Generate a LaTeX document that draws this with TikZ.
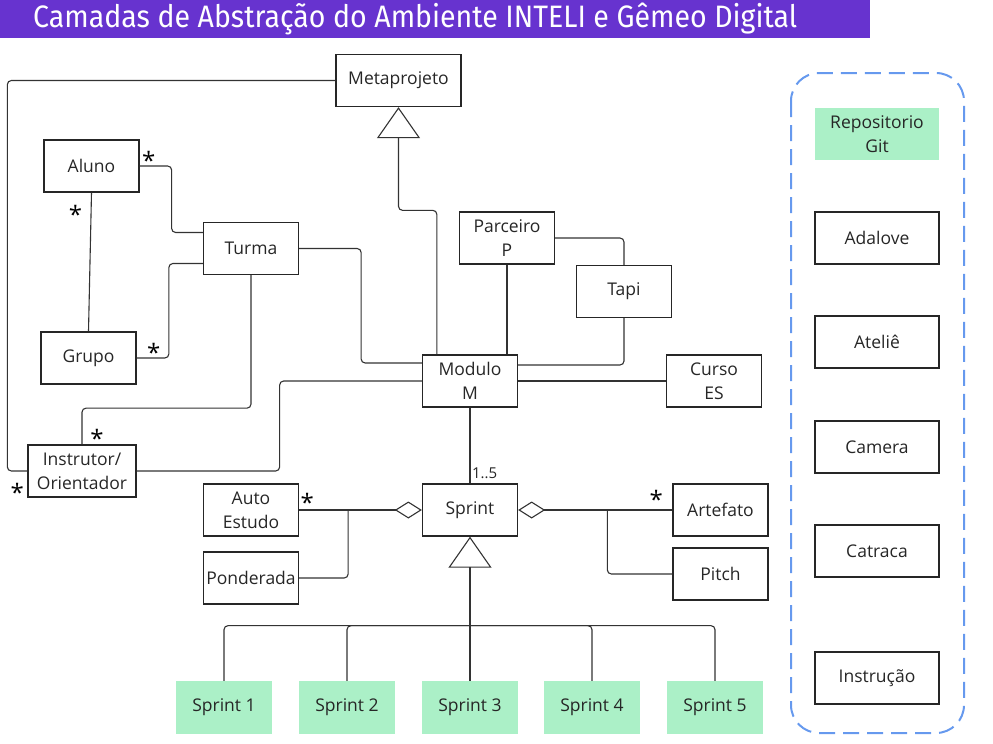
\documentclass[tikz,border=0pt]{standalone}
\usepackage{fontspec}
\setmainfont{Open Sans}
\newfontfamily\titlefont{Fira Sans}
\usetikzlibrary{arrows.meta, positioning}
\definecolor{titlepurple}{RGB}{103,51,207}
\definecolor{sprintgreen}{RGB}{171,240,199}
\definecolor{dashblue}{RGB}{102,153,238}
\definecolor{linegray}{RGB}{51,51,51}

\begin{document}
\begin{tikzpicture}[x=1pt, y=-1pt, font=\fontsize{17.5}{24}\selectfont]

  % Stili
  \tikzstyle{box} = [rectangle, draw=black!85, line width=1.3pt, minimum width=95pt, minimum height=52pt, inner sep=2pt, align=center, text=black!85]
  \tikzstyle{greenbox} = [rectangle, draw=none, fill=sprintgreen, minimum width=96pt, minimum height=53pt, align=center, text=black!85]
  \tikzstyle{link} = [draw=linegray, line width=1.1pt, rounded corners=4pt]
  \tikzstyle{mult} = [inner sep=0pt, text=black, font=\fontsize{24}{24}\selectfont]
  \tikzstyle{gen} = [-{Triangle[open, length=31pt, width=43pt]}]
  \tikzstyle{agg} = [-{Diamond[open, length=27pt, width=17pt]}]

  \useasboundingbox (0,0) rectangle (993,744);

  % Titolo
  \fill[titlepurple] (0,0) rectangle (870,38);
  \node[anchor=west, inner sep=0pt, text=white, font=\titlefont\fontsize{31}{31}\selectfont, xscale=0.92] (titolo) at (33,19) {Camadas de Abstração do Ambiente INTELI e Gêmeo Digital};

  % Nodi
  \node[box, minimum width=125pt] (meta) at (398.5,80.5) {Metaprojeto};
  \node[box] (aluno) at (91.5,166) {Aluno};
  \node[box] (turma) at (251,248.5) {Turma};
  \node[box] (grupo) at (88.5,358) {Grupo};
  \node[box, minimum width=108pt] (instr) at (82,471) {Instrutor/\\Orientador};
  \node[box] (parc) at (507,238) {Parceiro\\P};
  \node[box] (tapi) at (624,291.5) {Tapi};
  \node[box] (mod) at (470,381) {Modulo\\M};
  \node[box] (curso) at (714,381) {Curso\\ES};
  \node[box] (sprint) at (470,510) {Sprint};
  \node[box] (auto) at (251,510) {Auto\\Estudo};
  \node[box] (pond) at (251,578) {Ponderada};
  \node[box] (artef) at (720.5,510) {Artefato};
  \node[box] (pitch) at (720.5,574) {Pitch};

  \foreach \i/\x in {1/224, 2/347, 3/470, 4/592, 5/715}
    \node[greenbox] (s\i) at (\x,707.5) {Sprint \i};

  % Componenti
  \draw[dashblue, line width=2pt, dash pattern=on 16pt off 8pt, rounded corners=28pt] (791,73) rectangle (964,733);
  \node[greenbox, minimum width=124pt, minimum height=52pt] (repo) at (877,134) {Repositorio\\Git};
  \foreach \n/\y/\t in {ada/238/Adalove, atel/342/Ateliê, cam/447/Camera, catr/551/Catraca, instru/678/Instrução}
    \node[box, minimum width=124pt] (\n) at (877,\y) {\t};

  % Linee
  \draw[link] (meta.west) -| ([shift={(-20,0)}]instr.west) -- (instr.west);
  \draw[link] (aluno.east) -- ++(32,0) |- ([shift={(0,-16)}]turma.west);
  \draw[link] ([shift={(0,15)}]turma.west) -- ++(-34,0) |- (grupo.east);
  \draw[link] (aluno.south) -- (grupo.north);
  \draw[link] (turma.south) -- ++(0,133) -| (instr.north);
  \draw[link] (turma.east) -- ++(62,0) |- ([shift={(0,-18)}]mod.west);
  \draw[link] (instr.east) -- ++(143,0) |- (mod.west);
  \draw[link, gen] ([shift={(15,0)}]mod.north west) -- ++(0,-144) -| (meta.south);
  \draw[link] (parc.south) -- (parc.south |- mod.north);
  \draw[link] (parc.east) -| (tapi.north);
  \draw[link] (tapi.south) |- ([shift={(0,-16)}]mod.east);
  \draw[link] (mod.east) -- (curso.west);
  \draw[link] (mod.south) -- (sprint.north) node[pos=0.86, right, inner sep=1.5pt, text=black!85, font=\fontsize{15}{15}\selectfont] (molt) {1..5};

  \draw[link, agg] (auto.east) -- (sprint.west);
  \draw[link] (pond.east) -| ([shift={(49,0)}]auto.east);
  \draw[link, agg] (artef.west) -- (sprint.east);
  \draw[link] (pitch.west) -| ([shift={(-65,0)}]artef.west);

  \coordinate (bus) at ([shift={(0,89)}]sprint.south);
  \draw[link, gen] (s3.north) -- (sprint.south);
  \foreach \i in {1,2,4,5}
    \draw[link] (s\i.north) |- (bus);

  % Molteplicita
  \node[mult] (m1) at ([shift={(9,-6)}]aluno.east) {*};
  \node[mult] (m2) at ([shift={(-16,22)}]aluno.south) {*};
  \node[mult] (m3) at ([shift={(17,-6)}]grupo.east) {*};
  \node[mult] (m4) at ([shift={(15,-6)}]instr.north) {*};
  \node[mult] (m5) at ([shift={(-10,21)}]instr.west) {*};
  \node[mult] (m6) at ([shift={(8,-8)}]auto.east) {*};
  \node[mult] (m7) at ([shift={(-16,-11)}]artef.west) {*};

\end{tikzpicture}
\end{document}
